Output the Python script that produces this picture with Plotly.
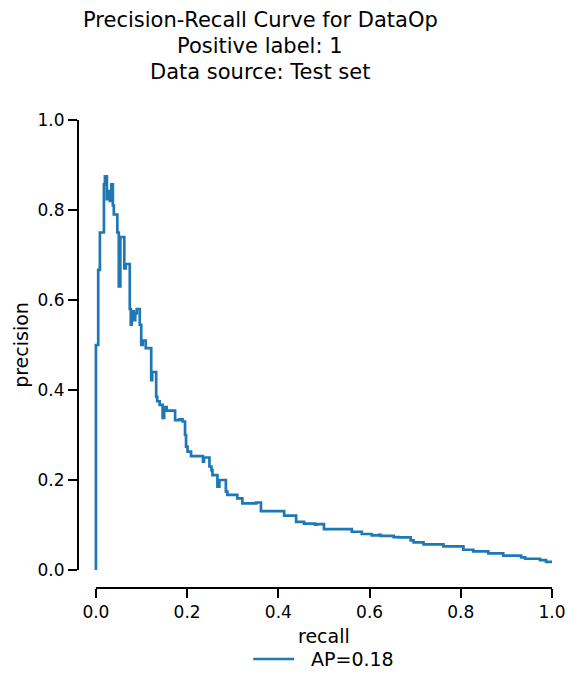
import plotly.graph_objs as go

# precision-recall steps (recall ascending,
# each precision level holds up to its recall value)
recall = [0.0, 0.005, 0.0087, 0.0175, 0.0197, 0.024, 0.0273, 0.0306, 0.0338,
          0.0371, 0.0393, 0.0469, 0.0502, 0.0535, 0.0622, 0.0655, 0.0742,
          0.0764, 0.0786, 0.083, 0.0862, 0.0895, 0.0961, 0.0993, 0.1026,
          0.1092, 0.1212, 0.1234, 0.1321, 0.1343, 0.1397, 0.1463,
          0.1496, 0.155, 0.1736, 0.1834, 0.19, 0.1954, 0.1976, 0.2009, 0.2085,
          0.2347, 0.2369, 0.2489, 0.2533, 0.2555, 0.2664, 0.2707, 0.2849,
          0.2882, 0.31, 0.321, 0.3515, 0.3618, 0.4127, 0.4389, 0.4563, 0.4803,
          0.4847, 0.5, 0.5611, 0.583, 0.6048, 0.6201, 0.6245, 0.6528, 0.6638,
          0.69, 0.6965, 0.7183, 0.762, 0.8057, 0.8275, 0.8603, 0.893, 0.9323,
          0.941, 0.9738, 0.9869, 1.0]
precision = [0.0, 0.5, 0.667, 0.75, 0.857, 0.875, 0.824, 0.842, 0.82,
             0.857, 0.81, 0.79, 0.75, 0.63, 0.74, 0.67, 0.68,
             0.58, 0.545, 0.575, 0.555, 0.57, 0.58, 0.545, 0.50,
             0.51, 0.493, 0.422, 0.44, 0.385, 0.375, 0.367,
             0.338, 0.362, 0.354, 0.333, 0.335, 0.33, 0.30, 0.274, 0.263,
             0.253, 0.241, 0.25, 0.23, 0.222, 0.211, 0.185, 0.2,
             0.174, 0.167, 0.159, 0.148, 0.15, 0.131, 0.121, 0.107, 0.103,
             0.101, 0.102, 0.091, 0.085, 0.08, 0.077, 0.078, 0.076, 0.073,
             0.0725, 0.066, 0.0615, 0.057, 0.0526, 0.045, 0.0415, 0.037, 0.032,
             0.028, 0.025, 0.022, 0.018]
ticks = [0.0, 0.2, 0.4, 0.6, 0.8, 1.0]
tick_text = ['0.0', '0.2', '0.4', '0.6', '0.8', '1.0']
title_lines = ['Precision-Recall Curve for DataOp', 'Positive label: 1',
               'Data source: Test set']
legend_label = 'AP=0.18'

FONT = 'DejaVu Sans'
BLUE = '#1f77b4'

# the page body adds an 8px margin, so the figure is drawn 8px smaller
fig = go.Figure()
fig.add_trace(go.Scatter(x=recall, y=precision,
                         mode='lines',
                         line={'color': BLUE, 'width': 2.7, 'shape': 'vh'},
                         name=legend_label, showlegend=False))

# trimmed spines (matplotlib despine style)
fig.add_shape(type='line', xref='x', yref='paper', x0=0, x1=1, y0=0, y1=0,
              line={'color': 'black', 'width': 2})
fig.add_shape(type='line', xref='paper', yref='y', x0=0, x1=0, y0=0, y1=1,
              line={'color': 'black', 'width': 2})

# title, one annotation per line to keep matplotlib's line spacing
for i, line in enumerate(title_lines):
    fig.add_annotation(text=line, xref='paper', yref='paper',
                       x=0.3797, y=1.1983 - i * 0.0549,
                       xanchor='center', yanchor='middle', showarrow=False,
                       font={'size': 21, 'family': FONT, 'color': 'black'})

fig.add_annotation(text='recall', xref='x', yref='paper', x=0.5, y=-0.101,
                   xanchor='center', yanchor='middle', showarrow=False,
                   font={'size': 19, 'family': FONT, 'color': 'black'})
fig.add_annotation(text='precision', xref='paper', yref='y', x=-0.119, y=0.5,
                   xanchor='center', yanchor='middle', textangle=-90,
                   showarrow=False,
                   font={'size': 19, 'family': FONT, 'color': 'black'})

# legend entry below the axes
fig.add_shape(type='line', xref='paper', yref='paper',
              x0=0.3651, x1=0.4502, y0=-0.1498, y1=-0.1498,
              line={'color': BLUE, 'width': 2.7})
fig.add_annotation(text=legend_label, xref='paper', yref='paper',
                   x=0.4813, y=-0.1498, xanchor='left', yanchor='middle',
                   showarrow=False,
                   font={'size': 19, 'family': FONT, 'color': 'black'})

fig['layout'].update(width=570, height=680,
                     margin={'l': 70, 'r': 18, 't': 106, 'b': 100},
                     paper_bgcolor='white', plot_bgcolor='white',
                     font={'family': FONT, 'color': 'black'},
                     showlegend=False)
fig.update_xaxes(range=[-0.0393, 1.0131], showgrid=False, zeroline=False,
                 showline=False, tickvals=ticks, ticktext=tick_text,
                 ticks='outside', ticklen=9, tickwidth=2, tickcolor='black',
                 tickfont={'size': 17, 'family': FONT, 'color': 'black'})
fig.update_yaxes(range=[-0.04, 1.0133], showgrid=False, zeroline=False,
                 showline=False, tickvals=ticks, ticktext=tick_text,
                 ticks='outside', ticklen=9, tickwidth=2, tickcolor='black',
                 tickfont={'size': 17, 'family': FONT, 'color': 'black'})

fig.write_html("out.html")
